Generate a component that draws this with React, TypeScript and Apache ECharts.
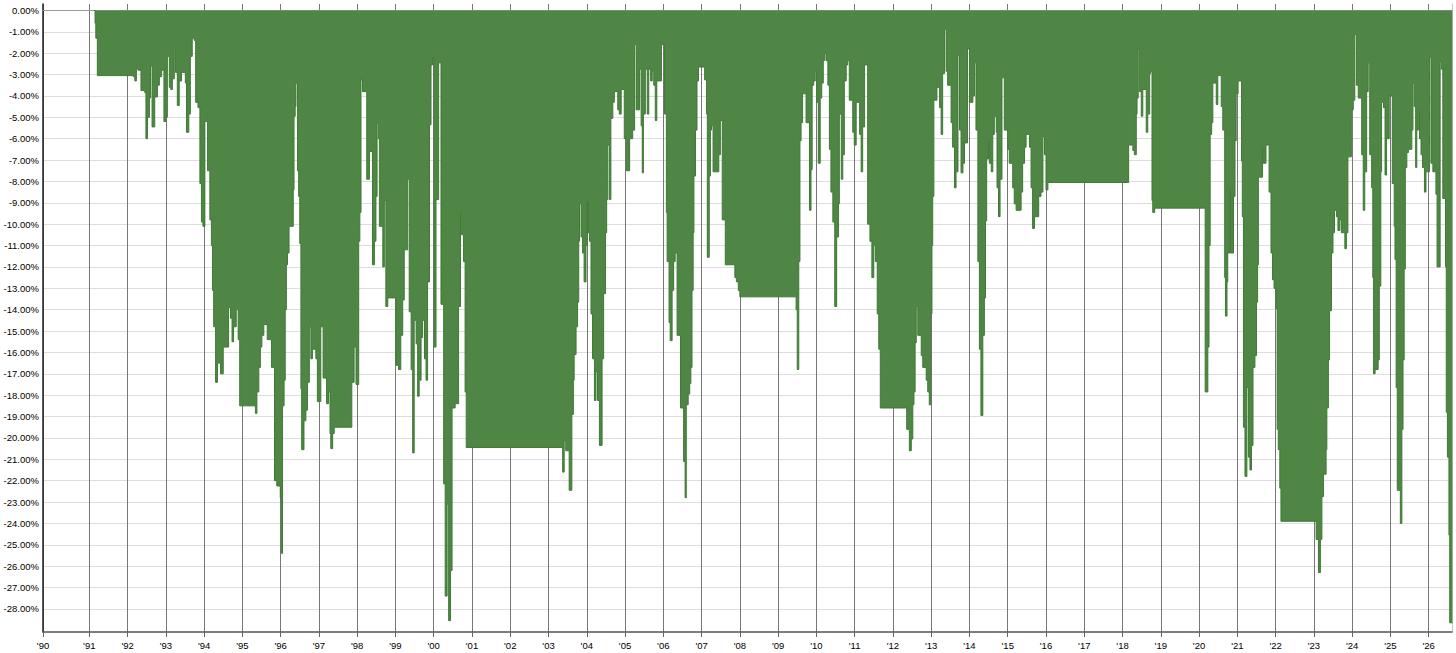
import React, { useEffect, useRef } from 'react';
import * as echarts from 'echarts';

// Axis extents (years) and drawdown range (%)
const X_MIN = 1989.79;
const X_MAX = 2026.61;
const Y_MIN = -29.08;
const Y_MAX = 0.3;

const yearTicks = [
  1991, 1992, 1993, 1994, 1995, 1996, 1997, 1998, 1999, 2000, 2001, 2002,
  2003, 2004, 2005, 2006, 2007, 2008, 2009, 2010, 2011, 2012, 2013, 2014,
  2015, 2016, 2017, 2018, 2019, 2020, 2021, 2022, 2023, 2024, 2025, 2026,
];
const firstYearLabel = "'90";
const yTicks = [
  0, -1, -2, -3, -4, -5, -6, -7, -8, -9, -10, -11, -12, -13, -14, -15, -16,
  -17, -18, -19, -20, -21, -22, -23, -24, -25, -26, -27, -28,
];

// [year, drawdown %] — each value holds until the next point
const dd1990s: [number, number][] = [
  [1991.12, 0], [1991.15, -0.6], [1991.17, -1.3], [1991.21, -3.05],
  [1992.15, -3.1], [1992.19, -3.3], [1992.23, -2.75], [1992.28, -2.8], [1992.35, -3.75], [1992.45, -3.85],
  [1992.48, -6.0], [1992.52, -5.0], [1992.57, -4.1], [1992.6, -2.6], [1992.64, -5.45], [1992.71, -4.05],
  [1992.78, -3.5], [1992.83, -3.1], [1992.89, -2.8], [1992.95, -5.2], [1993.0, -5.0], [1993.04, -2.15],
  [1993.09, -3.6], [1993.13, -3.7], [1993.17, -3.2], [1993.22, -1.6], [1993.25, -2.9], [1993.3, -4.45],
  [1993.35, -3.3], [1993.41, -2.9], [1993.51, -3.4], [1993.54, -5.7], [1993.6, -4.85], [1993.64, -2.15],
  [1993.69, -1.3], [1993.74, -1.4], [1993.78, -4.3], [1993.84, -4.55], [1993.89, -8.1], [1993.93, -9.9],
  [1993.97, -10.1], [1994.02, -5.2], [1994.09, -7.5], [1994.15, -9.8], [1994.19, -11.0], [1994.22, -13.1],
  [1994.25, -14.8], [1994.3, -17.4], [1994.35, -16.5], [1994.43, -17.0], [1994.5, -15.75], [1994.64, -13.9],
  [1994.69, -14.4], [1994.73, -15.5], [1994.77, -14.8], [1994.84, -14.0], [1994.89, -15.4], [1994.93, -18.5],
  [1995.34, -18.85], [1995.38, -17.85], [1995.43, -16.7], [1995.47, -15.75], [1995.51, -15.2], [1995.56, -14.7],
  [1995.65, -15.4], [1995.76, -16.7], [1995.84, -22.0], [1995.9, -22.25], [1995.99, -22.8], [1996.02, -25.4],
  [1996.05, -18.5], [1996.09, -17.3], [1996.12, -14.0], [1996.15, -11.9], [1996.18, -11.35], [1996.22, -10.1],
  [1996.33, -8.4], [1996.35, -4.95], [1996.38, -4.5], [1996.4, -3.4], [1996.44, -7.5], [1996.47, -8.7],
  [1996.5, -10.9], [1996.53, -17.7], [1996.55, -20.55], [1996.61, -19.2], [1996.66, -18.7], [1996.7, -17.4],
  [1996.75, -14.8], [1996.79, -16.3], [1996.83, -15.85], [1996.92, -16.3], [1996.96, -18.3], [1997.05, -14.8],
  [1997.11, -17.2], [1997.2, -18.4], [1997.25, -17.85], [1997.29, -19.8], [1997.31, -20.5], [1997.36, -19.8],
  [1997.4, -19.5], [1997.86, -17.4], [1997.92, -15.75], [1997.97, -17.5], [1998.04, -10.8], [1998.07, -9.45],
  [1998.1, -3.25], [1998.14, -3.8], [1998.25, -7.9], [1998.32, -6.6], [1998.4, -11.9], [1998.45, -10.8],
  [1998.49, -8.7], [1998.52, -5.25], [1998.55, -6.0], [1998.58, -10.1], [1998.67, -12.0], [1998.71, -8.9],
  [1998.75, -13.85], [1998.8, -13.45], [1999.01, -16.6], [1999.08, -16.8], [1999.14, -15.2], [1999.19, -13.55],
  [1999.23, -11.2], [1999.32, -7.9], [1999.36, -14.1], [1999.41, -16.8], [1999.45, -20.7], [1999.49, -14.5],
  [1999.54, -15.6], [1999.58, -18.05], [1999.62, -17.3], [1999.67, -15.3], [1999.71, -14.5], [1999.76, -16.3],
  [1999.8, -17.3], [1999.84, -12.7], [1999.89, -5.35], [1999.93, -2.55], [1999.97, -2.2],
];

const dd2000s: [number, number][] = [
  [2000.01, -15.75], [2000.06, -8.85], [2000.13, -2.45], [2000.19, -13.75], [2000.26, -22.15], [2000.3, -27.4],
  [2000.35, -23.1], [2000.39, -28.55], [2000.44, -26.2], [2000.48, -18.6], [2000.56, -18.4], [2000.65, -13.85],
  [2000.7, -9.45], [2000.73, -10.5], [2000.78, -11.75], [2000.82, -17.85], [2000.85, -20.45],
  [2003.37, -21.6], [2003.41, -20.15], [2003.45, -20.6], [2003.54, -22.45], [2003.61, -18.9], [2003.65, -17.3],
  [2003.67, -16.1], [2003.72, -14.8], [2003.76, -13.65], [2003.79, -10.8], [2003.81, -9.05], [2003.85, -10.6],
  [2003.89, -11.35], [2003.93, -12.7], [2003.98, -11.0], [2004.01, -8.95], [2004.03, -10.4], [2004.07, -10.8],
  [2004.11, -14.2], [2004.15, -16.3], [2004.2, -18.25], [2004.24, -16.9], [2004.28, -18.25], [2004.33, -20.35],
  [2004.4, -16.3], [2004.44, -13.25], [2004.49, -10.4], [2004.52, -8.85], [2004.55, -6.3], [2004.59, -8.85],
  [2004.63, -5.05], [2004.68, -4.3], [2004.72, -3.8], [2004.81, -4.65], [2004.85, -4.85], [2004.9, -3.7],
  [2004.98, -6.0], [2005.03, -7.5], [2005.12, -6.0], [2005.2, -5.6], [2005.25, -1.6], [2005.29, -4.65],
  [2005.38, -2.75], [2005.42, -5.4], [2005.45, -7.6], [2005.48, -4.85], [2005.53, -2.75], [2005.58, -4.85],
  [2005.62, -2.75], [2005.67, -3.3], [2005.71, -2.85], [2005.75, -3.5], [2005.79, -5.15], [2005.83, -3.3],
  [2005.95, -1.6], [2006.03, -4.85], [2006.08, -9.45], [2006.1, -11.75], [2006.15, -14.6], [2006.18, -15.45],
  [2006.23, -13.1], [2006.27, -11.75], [2006.31, -11.35], [2006.36, -15.2], [2006.45, -18.6], [2006.53, -21.1],
  [2006.57, -22.8], [2006.6, -18.45], [2006.65, -17.95], [2006.69, -17.45], [2006.72, -16.7], [2006.75, -13.1],
  [2006.78, -10.4], [2006.8, -7.75], [2006.84, -5.6], [2006.88, -3.3], [2006.92, -2.65], [2007.08, -3.25],
  [2007.13, -4.85], [2007.15, -11.55], [2007.2, -7.75], [2007.23, -5.6], [2007.26, -5.4], [2007.3, -7.55],
  [2007.45, -6.75], [2007.49, -5.15], [2007.54, -9.8], [2007.62, -11.9], [2007.87, -12.5], [2007.91, -12.7],
  [2007.96, -13.1], [2008.0, -13.4],
  [2009.47, -14.0], [2009.5, -16.8], [2009.54, -11.75], [2009.57, -6.1], [2009.6, -5.25], [2009.64, -3.9],
  [2009.73, -5.25], [2009.82, -9.35], [2009.86, -7.45], [2009.89, -3.5], [2009.93, -3.3], [2009.97, -2.85],
];

const dd2010s: [number, number][] = [
  [2010.01, -4.3], [2010.05, -7.15], [2010.1, -4.1], [2010.14, -3.4], [2010.18, -2.35], [2010.21, -2.0],
  [2010.25, -2.35], [2010.3, -3.5], [2010.34, -6.5], [2010.38, -8.5], [2010.43, -9.9], [2010.48, -13.85],
  [2010.53, -10.6], [2010.58, -9.05], [2010.6, -4.85], [2010.65, -7.9], [2010.69, -6.75], [2010.73, -3.3],
  [2010.78, -2.55], [2010.82, -2.35], [2010.86, -4.2], [2010.95, -5.7], [2010.99, -6.3], [2011.04, -4.3],
  [2011.13, -5.8], [2011.17, -7.55], [2011.21, -5.45], [2011.26, -2.55], [2011.34, -10.0], [2011.4, -10.8],
  [2011.45, -12.5], [2011.5, -11.0], [2011.54, -11.75], [2011.59, -14.2], [2011.63, -15.85], [2011.67, -18.6],
  [2012.36, -19.6], [2012.43, -20.6], [2012.48, -20.05], [2012.52, -18.45], [2012.55, -17.85], [2012.58, -15.55],
  [2012.61, -13.85], [2012.65, -15.2], [2012.74, -16.15], [2012.78, -16.7], [2012.87, -17.3], [2012.91, -17.85],
  [2012.95, -18.45], [2012.99, -14.2], [2013.02, -11.0], [2013.04, -8.7], [2013.07, -4.2], [2013.15, -3.6],
  [2013.22, -4.55], [2013.26, -5.8], [2013.3, -2.95], [2013.35, -0.88], [2013.39, -2.85], [2013.43, -3.5],
  [2013.52, -5.25], [2013.56, -6.4], [2013.61, -8.3], [2013.65, -7.55], [2013.7, -2.1], [2013.74, -5.6],
  [2013.78, -7.6], [2013.83, -7.15], [2013.87, -6.2], [2013.95, -1.8], [2014.0, -4.3], [2014.09, -4.0],
  [2014.13, -2.45], [2014.17, -5.6], [2014.22, -11.75], [2014.26, -15.85], [2014.3, -18.95], [2014.35, -15.2],
  [2014.39, -13.45], [2014.42, -9.85], [2014.45, -6.95], [2014.5, -6.1], [2014.52, -7.15], [2014.57, -7.55],
  [2014.61, -5.8], [2014.65, -4.95], [2014.7, -5.7], [2014.72, -8.3], [2014.76, -9.65], [2014.8, -7.9],
  [2014.85, -3.15], [2014.91, -5.6], [2015.0, -6.5], [2015.04, -7.15], [2015.13, -8.3], [2015.17, -9.05],
  [2015.22, -9.35], [2015.35, -8.5], [2015.39, -7.15], [2015.44, -6.4], [2015.48, -5.8], [2015.57, -6.4],
  [2015.61, -8.3], [2015.65, -10.2], [2015.7, -9.65], [2015.81, -8.7], [2015.87, -8.5], [2015.92, -5.9],
  [2015.96, -6.75], [2016.0, -8.4], [2016.05, -8.05],
  [2018.16, -6.3], [2018.27, -6.55], [2018.31, -6.75], [2018.36, -4.85], [2018.38, -4.1], [2018.41, -1.8],
  [2018.44, -3.8], [2018.49, -4.95], [2018.53, -3.7], [2018.62, -5.7], [2018.66, -4.85], [2018.71, -2.95],
  [2018.73, -2.85], [2018.77, -8.9], [2018.79, -9.45], [2018.84, -9.25],
];

const dd2020s: [number, number][] = [
  [2020.16, -17.85], [2020.23, -15.75], [2020.26, -11.0], [2020.29, -5.8], [2020.33, -5.25], [2020.36, -3.4],
  [2020.45, -4.4], [2020.49, -3.05], [2020.58, -4.5], [2020.62, -5.6], [2020.67, -12.5], [2020.69, -14.3],
  [2020.73, -12.7], [2020.75, -11.35], [2020.8, -8.4], [2020.82, -11.35], [2020.9, -8.7], [2020.94, -6.1],
  [2020.97, -3.9], [2021.02, -3.3], [2021.11, -7.05], [2021.13, -9.65], [2021.16, -19.5], [2021.2, -21.8],
  [2021.25, -17.65], [2021.29, -20.9], [2021.33, -21.5], [2021.37, -20.35], [2021.41, -16.7], [2021.46, -16.15],
  [2021.5, -13.65], [2021.53, -11.9], [2021.55, -7.8], [2021.66, -6.4], [2021.68, -7.15], [2021.75, -6.3],
  [2021.83, -8.5], [2021.88, -11.35], [2021.92, -12.6], [2021.96, -13.0], [2022.01, -13.95], [2022.04, -19.6],
  [2022.07, -20.55], [2022.11, -22.35], [2022.14, -23.9], [2023.06, -24.75], [2023.12, -26.3], [2023.17, -24.75],
  [2023.21, -22.75], [2023.25, -21.7], [2023.32, -20.55], [2023.34, -18.6], [2023.38, -16.35], [2023.41, -14.05],
  [2023.46, -11.35], [2023.5, -10.4], [2023.54, -9.35], [2023.59, -9.65], [2023.63, -10.3], [2023.68, -9.8],
  [2023.72, -10.4], [2023.81, -11.15], [2023.85, -10.4], [2023.89, -6.85], [2023.98, -4.65], [2024.03, -4.2],
  [2024.07, -1.13], [2024.11, -3.5], [2024.16, -4.1], [2024.25, -6.75], [2024.29, -9.35], [2024.33, -7.55],
  [2024.38, -3.8], [2024.42, -2.45], [2024.46, -6.75], [2024.51, -8.3], [2024.54, -12.5], [2024.56, -17.0],
  [2024.6, -16.8], [2024.68, -16.35], [2024.71, -12.9], [2024.75, -7.55], [2024.77, -4.3], [2024.82, -4.55],
  [2024.86, -7.7], [2024.9, -6.0], [2024.97, -4.0], [2025.05, -8.1], [2025.1, -10.1], [2025.12, -11.65],
  [2025.15, -17.65], [2025.18, -22.45], [2025.26, -24.0], [2025.3, -19.6], [2025.33, -16.35], [2025.36, -12.1],
  [2025.39, -7.35], [2025.43, -6.65], [2025.47, -6.5], [2025.56, -5.6], [2025.59, -3.4], [2025.62, -4.5],
  [2025.66, -7.35], [2025.69, -5.6], [2025.73, -4.75], [2025.76, -6.0], [2025.8, -6.75], [2025.84, -7.35],
  [2025.89, -8.5], [2025.93, -7.55], [2026.02, -2.18], [2026.06, -7.15], [2026.11, -7.55], [2026.19, -8.6],
  [2026.22, -12.0], [2026.3, -2.4], [2026.33, -2.75], [2026.37, -8.8], [2026.44, -12.0], [2026.46, -18.8],
  [2026.49, -20.9], [2026.53, -24.55], [2026.55, -28.65], [2026.62, -28.65],
];

const FILL = '#4f8645';
const EDGE = '#3f7a35';
const FONT = 'Liberation Sans, Arial, sans-serif';

export default function App() {
  const ref = useRef<HTMLDivElement>(null);

  useEffect(() => {
    if (!ref.current) return;
    const chart = echarts.init(ref.current, null, { renderer: 'svg' });
    const data = [...dd1990s, ...dd2000s, ...dd2010s, ...dd2020s];
    const xLabelValues = [X_MIN, ...yearTicks];

    chart.setOption({
      animation: false,
      backgroundColor: '#ffffff',
      grid: { left: 43, right: 4, top: 4, bottom: 21, containLabel: false },
      xAxis: [
        {
          type: 'value',
          position: 'bottom',
          min: X_MIN,
          max: X_MAX,
          axisLine: { show: true, onZero: false, lineStyle: { color: '#555555', width: 1.5 } },
          axisTick: { show: true, customValues: xLabelValues, length: 5, lineStyle: { color: '#666666' } },
          axisLabel: {
            customValues: xLabelValues,
            margin: 8,
            color: '#000000',
            fontFamily: FONT,
            fontSize: 9.5,
            formatter: (v: number) =>
              v < 1990.5 ? firstYearLabel : "'" + String(Math.round(v) % 100).padStart(2, '0'),
          },
          splitLine: { show: true, lineStyle: { color: '#777777', width: 1 } },
        },
        {
          type: 'value',
          position: 'top',
          min: X_MIN,
          max: X_MAX,
          axisLine: { show: true, onZero: true, lineStyle: { color: '#999999', width: 1 } },
          axisTick: { show: false },
          axisLabel: { show: false },
          splitLine: { show: false },
        },
      ],
      yAxis: [
        {
          type: 'value',
          min: Y_MIN,
          max: Y_MAX,
          axisLine: { show: true, onZero: false, lineStyle: { color: '#222222', width: 1.5 } },
          axisTick: { show: false, customValues: yTicks },
          axisLabel: {
            customValues: yTicks,
            margin: 4,
            color: '#000000',
            fontFamily: FONT,
            fontSize: 9.5,
            formatter: (v: number) => v.toFixed(2) + '%',
          },
          splitLine: { show: true, lineStyle: { color: '#dddddd', width: 1 } },
        },
        {
          type: 'value',
          position: 'right',
          min: Y_MIN,
          max: Y_MAX,
          axisLine: { show: true, onZero: false, lineStyle: { color: '#c8c8c8', width: 1 } },
          axisTick: { show: false },
          axisLabel: { show: false },
          splitLine: { show: false },
        },
      ],
      series: [
        {
          type: 'line',
          xAxisIndex: 0,
          yAxisIndex: 0,
          step: 'end',
          data,
          symbol: 'none',
          showSymbol: false,
          clip: true,
          lineStyle: { color: EDGE, width: 1 },
          areaStyle: { color: FILL, opacity: 1, origin: 'auto' },
          emphasis: { disabled: true },
        },
      ],
    });

    return () => chart.dispose();
  }, []);

  return (
    <div
      ref={ref}
      style={{ position: 'fixed', left: 0, top: 0, width: 1456, height: 653, background: '#fff' }}
    />
  );
}
